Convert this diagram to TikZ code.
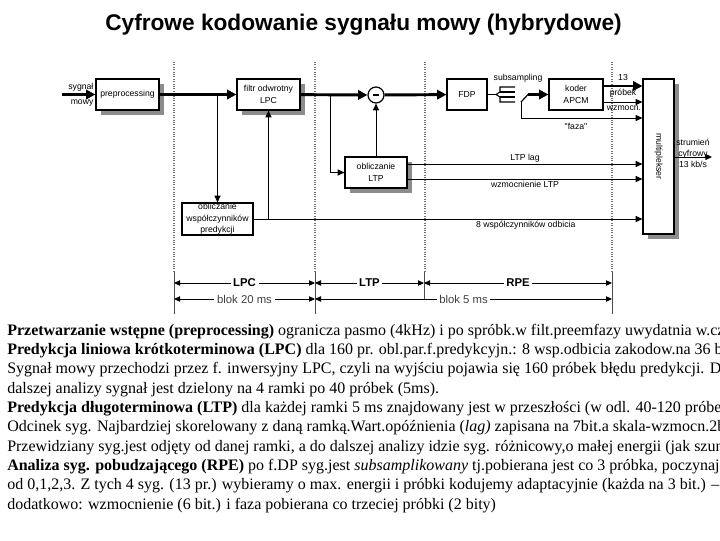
\documentclass[tikz,border=0pt]{standalone}
\usepackage{fontspec}
\setmainfont{Liberation Serif}
\setsansfont{Liberation Sans}
\usetikzlibrary{arrows.meta,shadows}

\begin{document}
\begin{tikzpicture}[x=0.75pt, y=-0.75pt,
  blok/.style={draw, line width=0.9pt, fill=white, align=center, inner sep=0pt,
    font=\sffamily\fontsize{6.5}{8.5}\selectfont},
  cien/.style={drop shadow={shadow xshift=3.5pt, shadow yshift=-3.5pt, fill=black!45, opacity=1}},
  gruba/.style={line width=2.2pt, -{Triangle[length=7pt, width=7pt]}},
  cienka/.style={line width=0.75pt, -{Triangle[length=5pt, width=4.5pt]}},
  opis/.style={font=\sffamily\fontsize{6.5}{8.5}\selectfont, inner sep=1pt},
  wymiar/.style={line width=0.7pt, {Triangle[length=4.5pt, width=4pt]}-{Triangle[length=4.5pt, width=4pt]}},
  linia/.style={anchor=base west, inner sep=0pt, font=\fontsize{12}{14}\selectfont}]

% one unit = one pixel of the 720 x 540 page
\def\px{0.75pt}
\useasboundingbox (0,0) rectangle (720,540);
\clip (0,0) rectangle (720,540);

%--- Title ---
\node[font=\sffamily\bfseries\fontsize{17}{20}\selectfont] (tytul) at (363.5,25)
  {Cyfrowe kodowanie sygnału mowy (hybrydowe)};

%--- Dotted band limits and ticks ---
\foreach \x in {174,315,425,612}
  \draw[densely dotted, line width=0.8pt, black!55] (\x,62) -- (\x,272);
\foreach \x in {174,315,612}
  \draw[black!70, line width=0.6pt] (\x,272) -- (\x,314);
\draw[black!70, line width=0.6pt] (424,272) -- (424,300);

%--- Blocks ---
\node[blok, cien, minimum width=63*\px, minimum height=31*\px] (pre) at (127.5,94.5) {preprocessing};
\node[blok, cien, minimum width=63*\px, minimum height=31*\px] (filtr) at (268.5,94.5) {filtr odwrotny\\LPC};
\node[blok, minimum width=71*\px, minimum height=32*\px] (wsp) at (217.5,219) {obliczanie\\współczynników\\predykcji};
\node[draw, circle, line width=0.9pt, fill=white, minimum size=16*\px, inner sep=0pt] (minus) at (376,95) {};
\draw[line width=1.6pt] ([xshift=-2.5pt]minus.center) -- ([xshift=2.5pt]minus.center);
\node[blok, cien, minimum width=62*\px, minimum height=31*\px] (ltp) at (376,172.5) {obliczanie\\LTP};
\node[blok, minimum width=40*\px, minimum height=31*\px] (fdp) at (467,94.5) {FDP};
\node[blok, minimum width=54*\px, minimum height=31*\px] (koder) at (576,94.5) {koder\\APCM};
\node[blok, cien, minimum width=31*\px, minimum height=155*\px] (mux) at (658.5,156.5) {};
\node[opis, rotate=-90] (muxtxt) at (mux.center) {multiplekser};

%--- Input ---
\coordinate (wej) at (62,94.5);
\draw[gruba] (wej) -- (pre);
\node[opis, anchor=east, align=right, font=\sffamily\fontsize{6.5}{11}\selectfont] (wejtxt) at (95,94.5) {sygnał\\mowy};

%--- LPC part ---
\draw[gruba] (pre) -- (filtr);
\coordinate (rozg1) at (217.5,94.5);
\draw[cienka] (rozg1) -- (wsp.north);
\draw[cienka] (wsp.east -| filtr.south) -- (filtr.south);
\draw[cienka] (wsp.east) -- node[opis, below, pos=0.7] {8 współczynników odbicia} (wsp.east -| mux.west);

%--- LTP part ---
\draw[gruba] (filtr) -- (minus);
\coordinate (rozg2) at (330,94.5);
\draw[cienka] (rozg2) |- (ltp.west);
\draw[cienka] (ltp.north) -- (minus.south);
\draw[cienka] (ltp.east |- 0,164) -- node[opis, above] {LTP lag} (mux.west |- 0,164);
\draw[cienka] (ltp.east |- 0,179) -- node[opis, below] {wzmocnienie LTP} (mux.west |- 0,179);

%--- RPE part ---
\draw[gruba] (minus) -- (fdp);
% subsampling switch
\draw[line width=0.8pt] (fdp.east) -- (496,94.5);
\draw[line width=0.8pt] (515,87) -- (500,87) -- (500,92) -- (496,94.5) -- (500,97) -- (500,102) -- (515,102);
\draw[line width=0.8pt] (500,92) -- (515,92) (500,97) -- (515,97);
\coordinate (kl) at (528,94.5);
\coordinate (faza) at (521,102);
\draw[line width=0.9pt] (faza) -- (kl);
\node[opis] (subtxt) at (518,78) {subsampling};
\draw[gruba] (kl) -- (koder);
\draw[gruba] (koder.east |- 0,86) -- (mux.west |- 0,86);
\draw[cienka] (koder.east |- 0,102) -- (mux.west |- 0,102);
\draw[cienka] (faza) |- (mux.west |- 0,118);
\node[opis] (t13) at (623,78) {13};
\node[opis] (tpr) at (623,93) {próbek};
\node[opis] (twz) at (624,108) {wzmocn.};
\node[opis] (tfaza) at (576,126) {\textquotedbl faza\textquotedbl};

%--- Output ---
\coordinate (wyj) at (712,157);
\draw[cienka] (mux.east |- wyj) -- (wyj);
\node[opis, align=center, font=\sffamily\fontsize{6.5}{8.3}\selectfont] (wyjtxt) at (693,153) {strumień\\cyfrowy\\13 kb/s};

%--- Block lengths below ---
\draw[wymiar] (174,283) -- node[fill=white, inner sep=2pt, font=\sffamily\bfseries\fontsize{8.5}{10}\selectfont] {LPC} (315,283);
\draw[wymiar] (315,283) -- node[fill=white, inner sep=2pt, font=\sffamily\bfseries\fontsize{8.5}{10}\selectfont] {LTP} (424,283);
\draw[wymiar] (424,283) -- node[fill=white, inner sep=2pt, font=\sffamily\bfseries\fontsize{8.5}{10}\selectfont] {RPE} (612,283);
\draw[wymiar] (174,299) -- node[fill=white, inner sep=2pt, text=black!75, font=\sffamily\fontsize{8.5}{10}\selectfont] {blok 20 ms} (315,299);
\draw[wymiar] (315,299) -- node[fill=white, inner sep=2pt, text=black!75, font=\sffamily\fontsize{8.5}{10}\selectfont] {blok 5 ms} (612,299);

%--- Description ---
\node[linia] (t1) at (7,335) {\textbf{Przetwarzanie wstępne (preprocessing)} ogranicza pasmo (4kHz) i po spróbk.w filt.preemfazy uwydatnia w.cz.};
\node[linia] (t2) at (7,354.3) {\textbf{Predykcja liniowa krótkoterminowa (LPC)} dla 160 pr. obl.par.f.predykcyjn.: 8 wsp.odbicia zakodow.na 36 bit.};
\node[linia] (t3) at (7,373.7) {Sygnał mowy przechodzi przez f. inwersyjny LPC, czyli na wyjściu pojawia się 160 próbek błędu predykcji. Do};
\node[linia] (t4) at (7,393) {dalszej analizy sygnał jest dzielony na 4 ramki po 40 próbek (5ms).};
\node[linia] (t5) at (7,412.3) {\textbf{Predykcja długoterminowa (LTP)} dla każdej ramki 5 ms znajdowany jest w przeszłości (w odl. 40-120 próbek)};
\node[linia] (t6) at (7,431.7) {Odcinek syg. Najbardziej skorelowany z daną ramką.Wart.opóźnienia (\textit{lag)} zapisana na 7bit.a skala-wzmocn.2bit.};
\node[linia] (t7) at (7,451) {Przewidziany syg.jest odjęty od danej ramki, a do dalszej analizy idzie syg. różnicowy,o małej energii (jak szum).};
\node[linia] (t8) at (7,470.3) {\textbf{Analiza syg. pobudzającego (RPE)} po f.DP syg.jest \textit{subsamplikowany} tj.pobierana jest co 3 próbka, poczynając};
\node[linia] (t9) at (7,489.7) {od 0,1,2,3. Z tych 4 syg. (13 pr.) wybieramy o max. energii i próbki kodujemy adaptacyjnie (każda na 3 bit.) – };
\node[linia] (t10) at (7,509) {dodatkowo: wzmocnienie (6 bit.) i faza pobierana co trzeciej próbki (2 bity)};

\end{tikzpicture}
\end{document}
